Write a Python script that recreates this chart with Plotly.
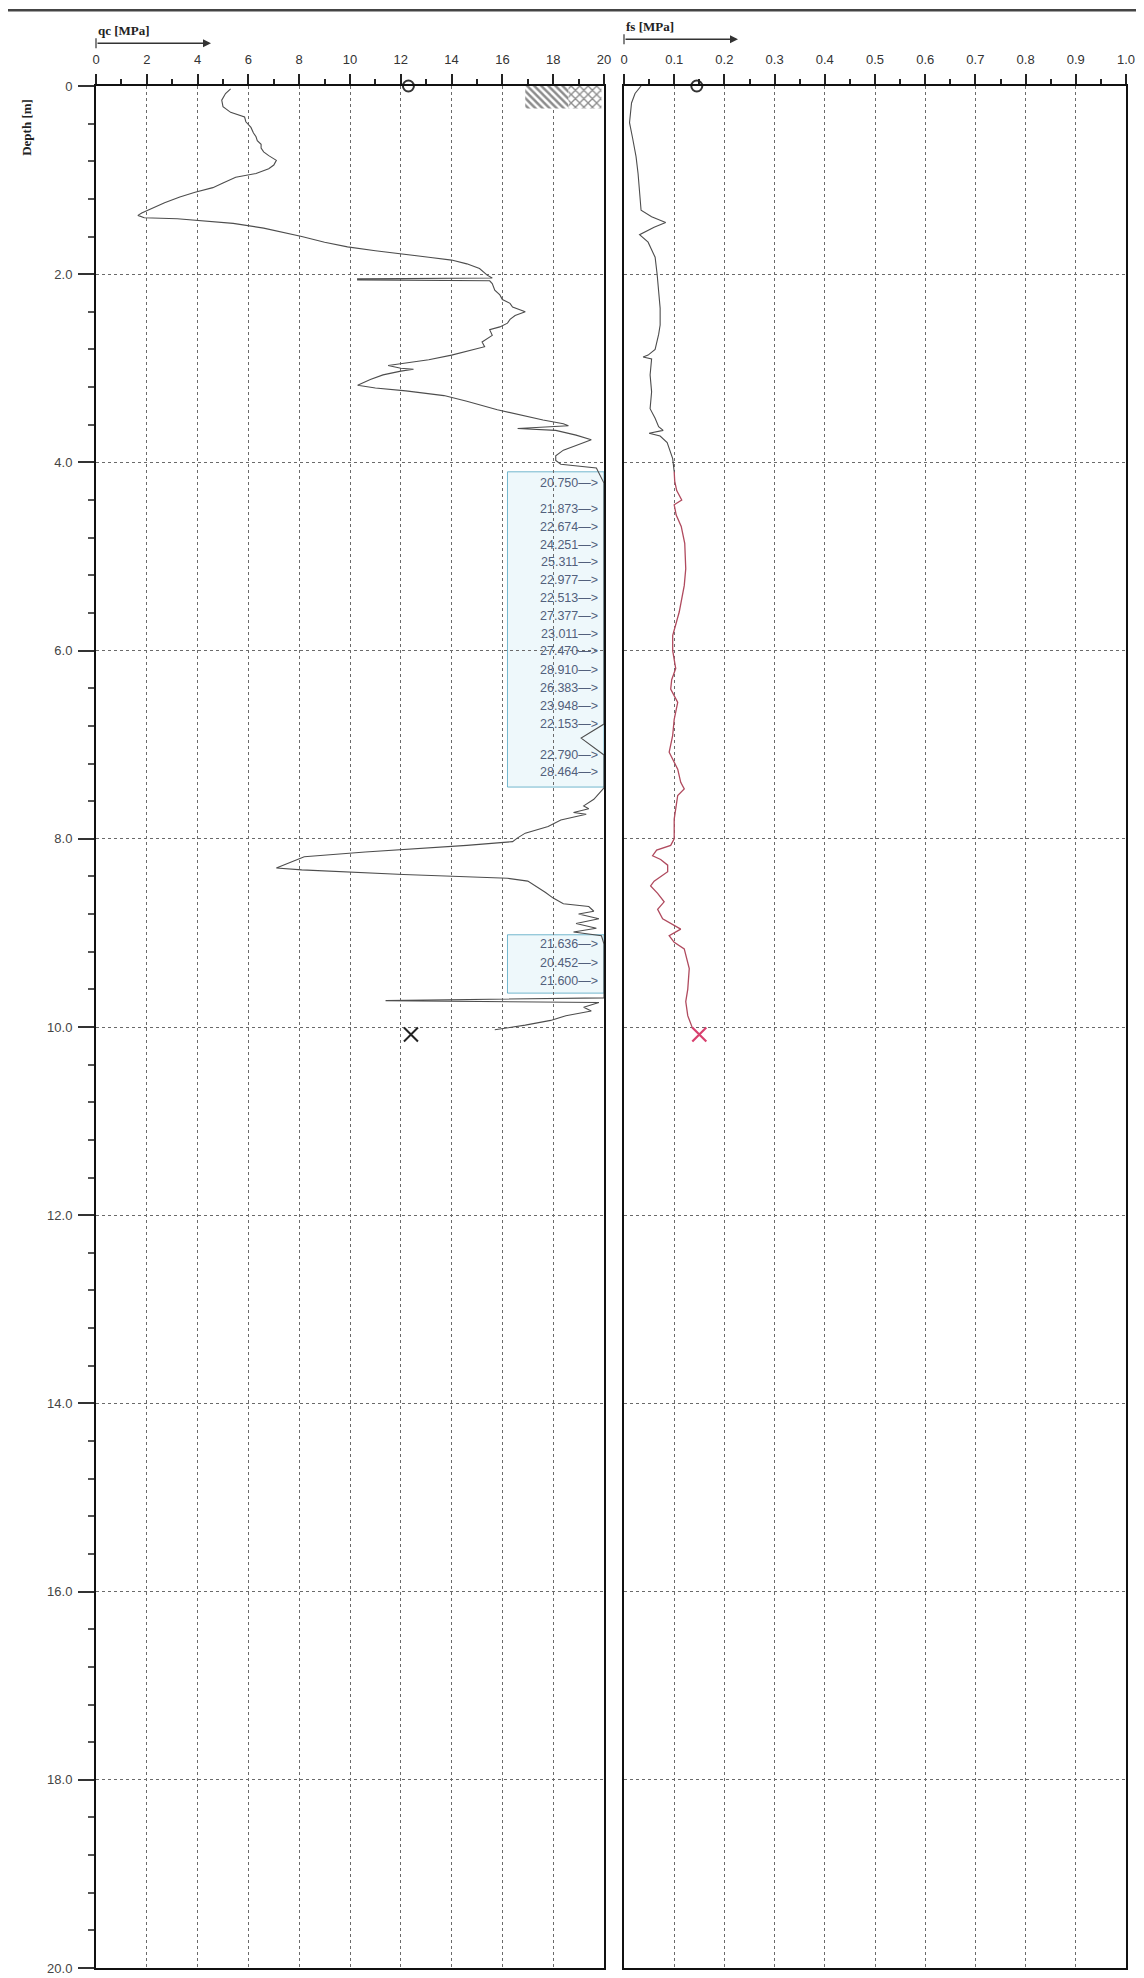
import numpy as np
import plotly.graph_objects as go

# ---------------- data ----------------
qc_depth = [0.03, 0.08, 0.15, 0.22, 0.28, 0.33, 0.38, 0.44, 0.50, 0.54, 0.58, 0.62, 0.66, 0.70, 0.74, 0.79,
            0.84, 0.88, 0.93, 0.97, 1.03, 1.08, 1.13, 1.18, 1.24, 1.30, 1.35, 1.375, 1.40, 1.41, 1.43, 1.46,
            1.51, 1.56, 1.60, 1.66, 1.71, 1.75, 1.78, 1.82, 1.85, 1.89, 1.94, 2.01, 2.04, 2.05, 2.06, 2.07,
            2.10, 2.17, 2.22, 2.27, 2.31, 2.35, 2.40, 2.44, 2.48, 2.52, 2.56, 2.59, 2.65, 2.72, 2.77, 2.86,
            2.91, 2.95, 2.97, 3.00, 3.01, 3.03, 3.07, 3.12, 3.18, 3.21, 3.24, 3.29, 3.35, 3.44, 3.51, 3.55,
            3.59, 3.61, 3.64, 3.66, 3.71, 3.76, 3.82, 3.87, 3.93, 3.98, 4.02, 4.06,
            4.22, 4.50, 4.69, 4.88, 5.06, 5.25, 5.44, 5.63, 5.82, 6.00, 6.21, 6.40, 6.59, 6.78, 6.93, 7.11, 7.29,
            7.46, 7.58, 7.65, 7.68, 7.72, 7.74, 7.80, 7.87, 7.94, 7.99, 8.03, 8.07, 8.10, 8.14, 8.19, 8.31,
            8.33, 8.36, 8.38, 8.40, 8.42, 8.45, 8.50, 8.57, 8.63, 8.69, 8.72, 8.77, 8.80, 8.85, 8.90, 8.95,
            8.99, 9.03, 9.12, 9.32, 9.51, 9.69, 9.72, 9.74, 9.79, 9.83, 9.88, 9.93, 9.98, 10.03]
qc_value = [5.3, 5.1, 4.95, 5.0, 5.3, 5.85, 5.9, 6.1, 6.2, 6.3, 6.35, 6.5, 6.5, 6.6, 6.8, 7.1,
            7.0, 6.8, 6.3, 5.5, 5.0, 4.6, 3.9, 3.3, 2.7, 2.2, 1.8, 1.65, 1.9, 3.2, 4.1, 5.4,
            6.6, 7.5, 8.1, 9.0, 9.9, 11.0, 12.0, 13.1, 14.0, 14.6, 15.1, 15.4, 15.6, 10.3, 10.3, 15.5,
            15.6, 15.7, 15.9, 16.0, 16.3, 16.4, 16.9, 16.5, 16.3, 16.2, 15.9, 15.5, 15.6, 15.2, 15.3, 14.0,
            13.1, 12.0, 11.5, 12.0, 12.5, 12.0, 11.3, 10.8, 10.3, 11.0, 12.2, 13.7, 14.6, 15.8, 16.9, 17.6,
            18.4, 18.6, 16.6, 18.1, 18.9, 19.5, 18.9, 18.4, 18.1, 18.1, 18.3, 19.7,
            20.750, 21.873, 22.674, 24.251, 25.311, 22.977, 22.513, 27.377, 23.011, 27.470, 28.910, 26.383,
            23.948, 22.153, 19.1, 22.790, 28.464,
            20.0, 19.6, 19.2, 19.4, 18.8, 19.3, 18.3, 17.8, 16.9, 16.6, 16.4, 14.6, 12.7, 10.6, 8.2, 7.1,
            8.1, 10.2, 12.1, 14.3, 16.2, 17.0, 17.3, 17.7, 18.0, 18.4, 19.4, 19.6, 19.0, 19.8, 18.9, 19.7,
            18.8, 19.9, 21.636, 20.452, 21.600, 20.2, 11.4, 19.8, 19.2, 19.5, 18.5, 17.9, 16.9, 15.7]

label_depth = [4.22, 4.50, 4.69, 4.88, 5.06, 5.25, 5.44, 5.63, 5.82, 6.00, 6.21, 6.40, 6.59, 6.78,
               7.11, 7.29, 9.12, 9.32, 9.51]
label_value = [20.750, 21.873, 22.674, 24.251, 25.311, 22.977, 22.513, 27.377, 23.011, 27.470,
               28.910, 26.383, 23.948, 22.153, 22.790, 28.464, 21.636, 20.452, 21.600]

fs_depth = [0.0, 0.08, 0.18, 0.39, 0.55, 0.75, 0.93, 1.10, 1.32, 1.39, 1.45, 1.50, 1.58, 1.66, 1.82,
            2.00, 2.18, 2.36, 2.54, 2.64, 2.80, 2.86, 2.88, 2.90, 3.07, 3.25, 3.43, 3.53, 3.62, 3.66,
            3.69, 3.72, 3.79, 3.96, 4.10]
fs_value = [0.034, 0.022, 0.015, 0.011, 0.017, 0.024, 0.028, 0.031, 0.034, 0.055, 0.083, 0.060, 0.031,
            0.048, 0.062, 0.066, 0.069, 0.072, 0.072, 0.069, 0.062, 0.048, 0.038, 0.055, 0.052, 0.055,
            0.052, 0.062, 0.069, 0.078, 0.050, 0.072, 0.086, 0.097, 0.100]
fs2_depth = [4.10, 4.20, 4.30, 4.40, 4.45, 4.56, 4.68, 4.86, 5.13, 5.31, 5.59, 5.84, 6.00, 6.19, 6.31,
             6.41, 6.55, 6.73, 6.90, 7.08, 7.26, 7.40, 7.47, 7.54, 7.79, 8.00, 8.07, 8.12, 8.18, 8.22,
             8.28, 8.35, 8.45, 8.50, 8.58, 8.67, 8.75, 8.85, 8.96, 9.03, 9.10, 9.17, 9.38, 9.60, 9.73,
             9.88, 10.02]
fs2_value = [0.100, 0.101, 0.105, 0.115, 0.100, 0.104, 0.114, 0.121, 0.123, 0.120, 0.110, 0.097, 0.097,
             0.103, 0.095, 0.093, 0.107, 0.100, 0.097, 0.090, 0.107, 0.113, 0.120, 0.107, 0.100, 0.100,
             0.093, 0.065, 0.057, 0.073, 0.087, 0.087, 0.060, 0.053, 0.067, 0.080, 0.067, 0.077, 0.113,
             0.090, 0.100, 0.120, 0.130, 0.127, 0.123, 0.127, 0.137]

end_depth = 10.08
qc_end_marker = 12.4
fs_end_marker = 0.15
qc_start_marker = 12.3
fs_start_marker = 0.145

qc_ticks = list(range(0, 21, 2))
fs_ticks = [round(0.1 * i, 1) for i in range(11)]
fs_ticktext = ["0"] + [f"{v:.1f}" for v in fs_ticks[1:]]
depth_ticks = list(range(0, 21, 2))
depth_ticktext = ["0"] + [f"{d:.1f}" for d in depth_ticks[1:]]

# ---------------- layout geometry ----------------
W, H = 1144, 1978
L, R, T, B = 88, 26, 78, 10
PW, PH = W - L - R, H - T - B


def px_x(px):
    return (px - L) / PW


def px_y(py):
    return 1 - (py - T) / PH


fig = go.Figure()

GREY = "#4d4d4d"
# qc curve (values > 20 run along the frame)
fig.add_trace(go.Scatter(x=np.minimum(np.array(qc_value), 20.0), y=qc_depth, mode="lines",
                         line=dict(color=GREY, width=1.1), xaxis="x", yaxis="y", showlegend=False))
# fs curve
fig.add_trace(go.Scatter(x=fs_value, y=fs_depth, mode="lines", line=dict(color=GREY, width=1.1),
                         xaxis="x2", yaxis="y2", showlegend=False))
fig.add_trace(go.Scatter(x=fs2_value, y=fs2_depth, mode="lines", line=dict(color="#b04a5e", width=1.3),
                         xaxis="x2", yaxis="y2", showlegend=False))

# hatched box at top right of qc panel
fig.add_trace(go.Bar(x=[1.7], base=[16.9], y=[0.12], width=[0.24], orientation="h",
                     marker=dict(color="white", line=dict(width=0),
                                 pattern=dict(shape="\\", fgcolor="#1a1a1a", bgcolor="white", size=5, solidity=0.5)),
                     xaxis="x", yaxis="y", showlegend=False))
fig.add_trace(go.Bar(x=[1.3], base=[18.6], y=[0.12], width=[0.24], orientation="h",
                     marker=dict(color="white", line=dict(width=0),
                                 pattern=dict(shape="x", fgcolor="#1a1a1a", bgcolor="white", size=6, solidity=0.4)),
                     xaxis="x", yaxis="y", showlegend=False))

# markers
fig.add_trace(go.Scatter(x=[qc_start_marker], y=[0], mode="markers", cliponaxis=False,
                         marker=dict(symbol="circle-open", size=11, color="#333", line=dict(width=2)),
                         xaxis="x", yaxis="y", showlegend=False))
fig.add_trace(go.Scatter(x=[fs_start_marker], y=[0], mode="markers", cliponaxis=False,
                         marker=dict(symbol="circle-open", size=11, color="#333", line=dict(width=2)),
                         xaxis="x2", yaxis="y2", showlegend=False))
fig.add_trace(go.Scatter(x=[qc_end_marker], y=[end_depth], mode="markers", cliponaxis=False,
                         marker=dict(symbol="x-thin", size=14, color="#222", line=dict(width=2, color="#222")),
                         xaxis="x", yaxis="y", showlegend=False))
fig.add_trace(go.Scatter(x=[fs_end_marker], y=[end_depth], mode="markers", cliponaxis=False,
                         marker=dict(symbol="x-thin", size=14, color="#d8406e", line=dict(width=2.2, color="#d8406e")),
                         xaxis="x2", yaxis="y2", showlegend=False))

# value labels for qc > 20
annotations = []
for d, v in zip(label_depth, label_value):
    annotations.append(dict(x=19.85, y=d, xref="x", yref="y", text=f"{v:.3f}\u2014>",
                            showarrow=False, xanchor="right", yanchor="middle",
                            font=dict(family="Liberation Sans Narrow, Liberation Sans, Arial", size=12.5,
                                      color="#52607c")))

# titles / arrows
annotations += [
    dict(x=px_x(88), y=px_y(22), xref="paper", yref="paper", text="<b>qc [MPa]</b>", showarrow=False,
         xanchor="left", yanchor="middle", font=dict(family="Liberation Serif, Times New Roman", size=13, color="#222")),
    dict(x=px_x(616), y=px_y(18), xref="paper", yref="paper", text="<b>fs [MPa]</b>", showarrow=False,
         xanchor="left", yanchor="middle", font=dict(family="Liberation Serif, Times New Roman", size=13, color="#222")),
    dict(x=px_x(19), y=px_y(120), xref="paper", yref="paper", text="<b>Depth [m]</b>", showarrow=False,
         textangle=-90, xanchor="center", yanchor="middle",
         font=dict(family="Liberation Serif, Times New Roman", size=13, color="#222")),
    dict(x=px_x(203), y=px_y(35), xref="paper", yref="paper", ax=-115, ay=0, text="", showarrow=True,
         arrowhead=2, arrowsize=1, arrowwidth=1.6, arrowcolor="#333"),
    dict(x=px_x(730), y=px_y(31), xref="paper", yref="paper", ax=-114, ay=0, text="", showarrow=True,
         arrowhead=2, arrowsize=1, arrowwidth=1.6, arrowcolor="#333"),
]

shapes = [
    # page top border
    dict(type="line", xref="paper", yref="paper", x0=px_x(0), x1=px_x(W), y0=px_y(2), y1=px_y(2),
         line=dict(color="#444", width=2.5)),
    # start ticks of the arrows
    dict(type="line", xref="paper", yref="paper", x0=px_x(88), x1=px_x(88), y0=px_y(30), y1=px_y(40),
         line=dict(color="#333", width=1.2)),
    dict(type="line", xref="paper", yref="paper", x0=px_x(616), x1=px_x(616), y0=px_y(26), y1=px_y(36),
         line=dict(color="#333", width=1.2)),
    # highlighted boxes around clipped values
    dict(type="rect", xref="x", yref="y", x0=16.2, x1=20, y0=4.10, y1=7.45,
         fillcolor="rgba(150,210,230,0.16)", line=dict(color="rgba(70,160,190,0.75)", width=1), layer="below"),
    dict(type="rect", xref="x", yref="y", x0=16.2, x1=20, y0=9.02, y1=9.64,
         fillcolor="rgba(150,210,230,0.16)", line=dict(color="rgba(70,160,190,0.75)", width=1), layer="below"),
]

tickfont = dict(family="Liberation Sans, Arial", size=13, color="#333")
grid = dict(showgrid=True, gridcolor="#6a6a6a", griddash="dot", gridwidth=1)
frame = dict(showline=True, mirror=True, linecolor="#111", linewidth=2)

fig.update_layout(
    width=W, height=H, margin=dict(l=L, r=R, t=T, b=B),
    paper_bgcolor="white", plot_bgcolor="white", showlegend=False,
    annotations=annotations, shapes=shapes, barmode="overlay",
    xaxis=dict(domain=[0, px_x(596)], range=[0, 20], side="top", tickvals=qc_ticks,
               ticktext=[str(v) for v in qc_ticks], ticks="outside", ticklen=10, tickwidth=1.5,
               tickcolor="#222", tickfont=tickfont, zeroline=False, ticklabelstandoff=5,
               minor=dict(dtick=1, ticks="outside", ticklen=5, tickcolor="#222", showgrid=False),
               anchor="y", **grid, **frame),
    xaxis2=dict(domain=[px_x(616), 1], range=[0, 1.0], side="top", tickvals=fs_ticks, ticktext=fs_ticktext,
                ticks="outside", ticklen=10, tickwidth=1.5, tickcolor="#222", tickfont=tickfont, zeroline=False,
                ticklabelstandoff=5,
                minor=dict(dtick=0.05, ticks="outside", ticklen=5, tickcolor="#222", showgrid=False),
                anchor="y2", **grid, **frame),
    yaxis=dict(domain=[0, 1], range=[20, 0], tickvals=depth_ticks, ticktext=depth_ticktext,
               ticks="outside", ticklen=16, tickwidth=1.5, tickcolor="#333", ticklabelstandoff=3,
               tickfont=dict(family="Liberation Sans, Arial", size=13, color="#444"), zeroline=False,
               minor=dict(dtick=0.4, ticks="outside", ticklen=6, tickcolor="#555", showgrid=False),
               anchor="x", **grid, **frame),
    yaxis2=dict(domain=[0, 1], range=[20, 0], matches="y", tickvals=depth_ticks, showticklabels=False,
                ticks="", zeroline=False, anchor="x2", **grid, **frame),
)

fig.write_html("out.html")
